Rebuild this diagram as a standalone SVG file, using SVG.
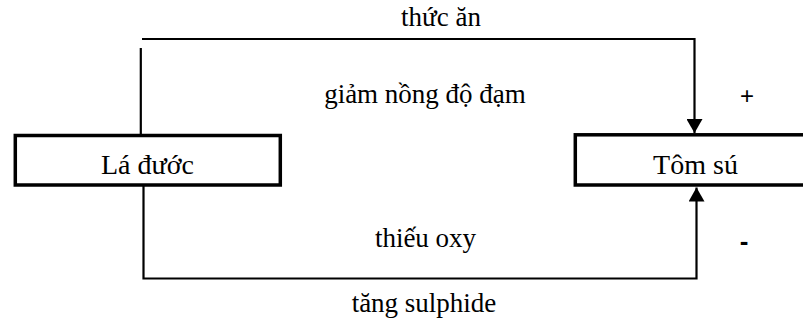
<svg xmlns="http://www.w3.org/2000/svg" width="803" height="320" viewBox="0 0 803 320">
  <style>
    .box { fill: #ffffff; stroke: #000000; stroke-width: 3.5; }
    .lbl { font-family: "Liberation Serif", "Times New Roman", serif; font-size: 27px; fill: #000000; text-anchor: middle; }
    .node { font-size: 28px; }
    .wire { fill: none; stroke: #000000; stroke-width: 2.2; }
    .sign { font-family: "Liberation Sans", Arial, sans-serif; fill: #000000; text-anchor: middle; }
  </style>
  <defs>
    <marker id="arrow" markerUnits="userSpaceOnUse" markerWidth="14" markerHeight="16" refX="14" refY="8" orient="auto" viewBox="0 0 14 16">
      <path d="M0,0 L14,8 L0,16 Z" fill="#000000"/>
    </marker>
  </defs>
  <rect width="803" height="320" fill="#ffffff"/>

  <!-- connectors -->
  <g id="connectors">
    <!-- upper feedback path: food supply (+) -->
    <path class="wire" d="M140.8,135 L140.8,48"/>
    <path class="wire" d="M142,39 L694.5,39 L694.5,133" marker-end="url(#arrow)"/>
    <!-- lower feedback path: oxygen depletion / sulphide (-) -->
    <path class="wire" d="M143.5,186 L143.5,278.5 L696.5,278.5 L696.5,187.5" marker-end="url(#arrow)"/>
  </g>

  <!-- edge labels -->
  <g id="labels">
    <text class="lbl" x="441" y="26">thức ăn</text>
    <text class="lbl" x="425" y="103">giảm nồng độ đạm</text>
    <text class="lbl" x="425.5" y="247">thiếu oxy</text>
    <text class="lbl" x="424" y="312">tăng sulphide</text>
    <text class="sign" x="747" y="104" font-size="24">+</text>
    <text class="sign" x="744" y="250" font-size="26" font-weight="bold">-</text>
  </g>

  <g id="la-duoc">
    <rect class="box" x="15.3" y="135.5" width="265" height="49.5"/>
    <text class="lbl node" x="147.5" y="174">Lá đước</text>
  </g>

  <g id="tom-su">
    <rect class="box" x="575.3" y="134.8" width="240" height="50.2"/>
    <text class="lbl node" x="695.5" y="174">Tôm sú</text>
  </g>
</svg>
